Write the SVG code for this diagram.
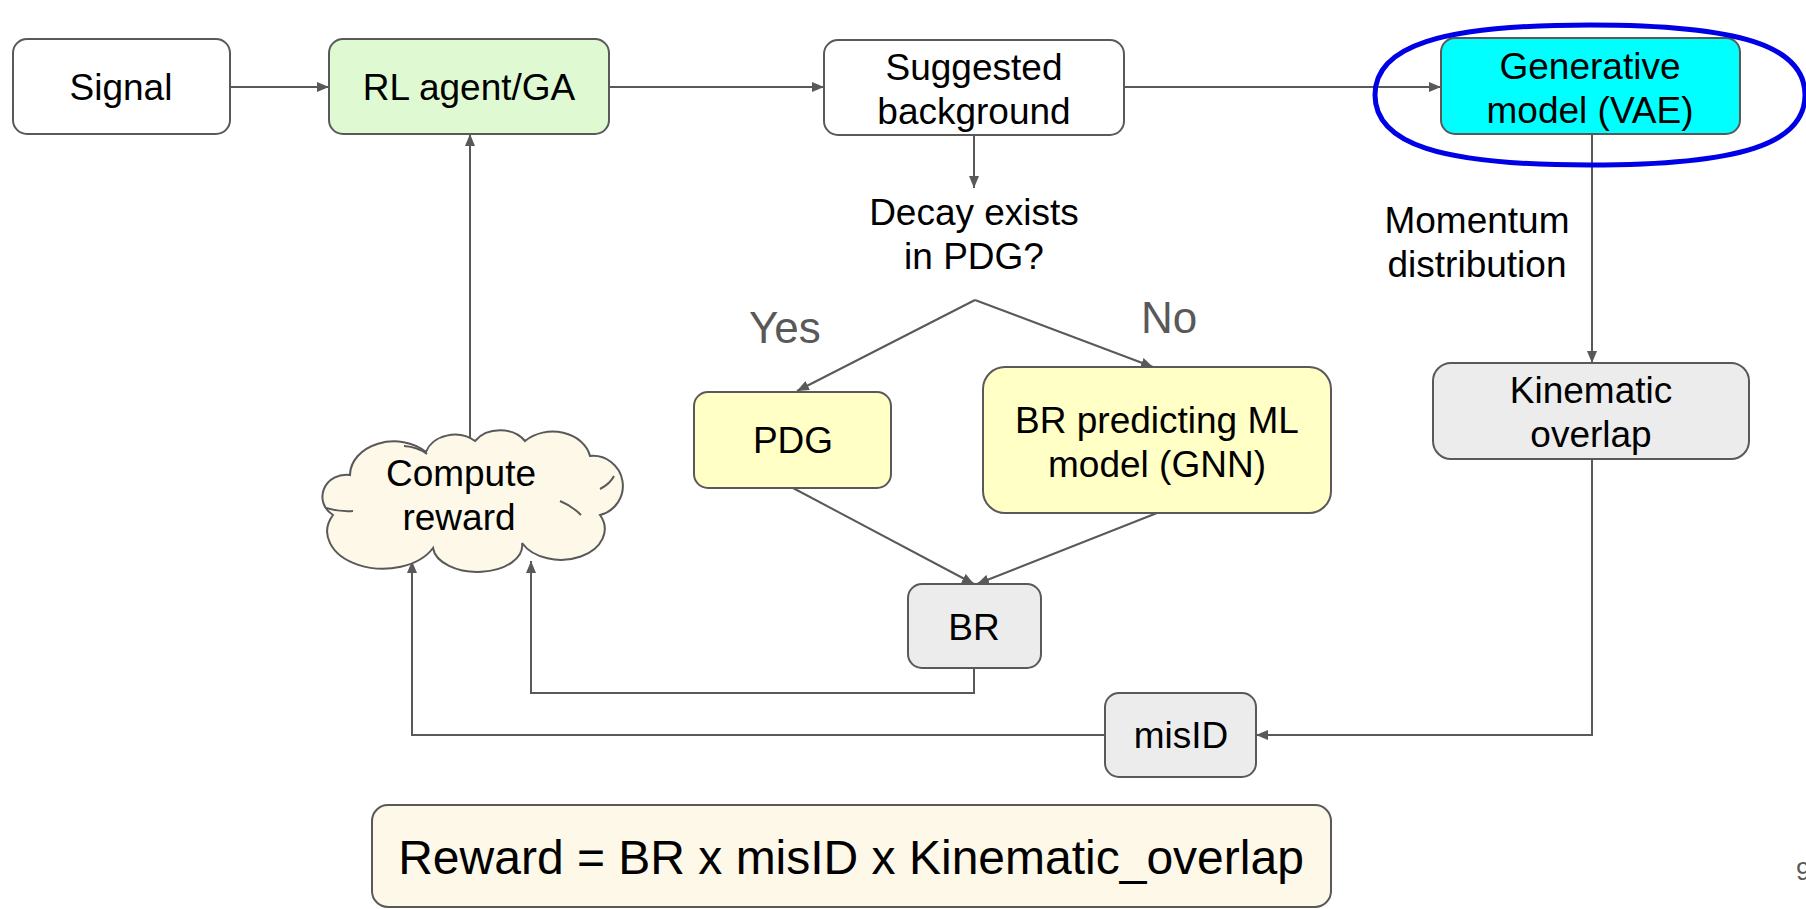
<svg xmlns="http://www.w3.org/2000/svg" width="1806" height="909" viewBox="0 0 1806 909">
<style>
text{font-family:"Liberation Sans",Arial,sans-serif;fill:#000;text-anchor:middle}
.t{font-size:37px}
.lbl{font-size:44px;fill:#595959;text-anchor:start}
.box{stroke:#595959;stroke-width:2}
.w{fill:#fff}
.g{fill:#dffad3}
.c{fill:#00ffff}
.y{fill:#ffffc6}
.gr{fill:#ececec}
.cr{fill:#fdf8e8}
.ln{fill:none;stroke:#595959;stroke-width:2}
</style>
<defs>
<marker id="ah" markerUnits="userSpaceOnUse" markerWidth="12" markerHeight="10" refX="12" refY="5" orient="auto">
<path d="M0,0 L12,5 L0,10 z" fill="#595959"/>
</marker>
</defs>
<rect width="1806" height="909" fill="#fff"/>

<g id="connectors">
<path class="ln" d="M230,87 H329" marker-end="url(#ah)"/>
<path class="ln" d="M609,87 H824" marker-end="url(#ah)"/>
<path class="ln" d="M1124,87 H1441" marker-end="url(#ah)"/>
<path class="ln" d="M974,135 V188" marker-end="url(#ah)"/>
<path class="ln" d="M1592,134 V363" marker-end="url(#ah)"/>
<path class="ln" d="M975,300 L797,391" marker-end="url(#ah)"/>
<path class="ln" d="M975,300 L1153,367" marker-end="url(#ah)"/>
<path class="ln" d="M793,488 L974,584" marker-end="url(#ah)"/>
<path class="ln" d="M1157,513 L977,584" marker-end="url(#ah)"/>
<path class="ln" d="M1592,459 V735 H1256" marker-end="url(#ah)"/>
<path class="ln" d="M1105,735 H412 V561" marker-end="url(#ah)"/>
<path class="ln" d="M974,668 V693 H531 V561" marker-end="url(#ah)"/>
<path class="ln" d="M470,440 V134" marker-end="url(#ah)"/>
</g>

<g id="signal">
<rect class="box w" x="13" y="39" width="217" height="95" rx="14"/>
<text class="t" x="121" y="100">Signal</text>
</g>
<g id="rl-agent">
<rect class="box g" x="329" y="39" width="280" height="95" rx="14"/>
<text class="t" x="469" y="100">RL agent/GA</text>
</g>
<g id="suggested-background">
<rect class="box w" x="824" y="40" width="300" height="95" rx="14"/>
<text class="t" x="974" y="80">Suggested</text>
<text class="t" x="974" y="124">background</text>
</g>
<g id="generative-model">
<rect class="box c" x="1441" y="38" width="299" height="96" rx="14"/>
<text class="t" x="1590" y="79">Generative</text>
<text class="t" x="1590" y="123">model (VAE)</text>
<path d="M1375,95 C1375,46 1440,25 1590,25 C1740,25 1805,46 1805,95 C1805,144 1740,165 1590,165 C1440,165 1375,144 1375,95 Z" fill="none" stroke="#0000e6" stroke-width="5"/>
</g>
<g id="momentum-label">
<text class="t" x="1477" y="233">Momentum</text>
<text class="t" x="1477" y="277">distribution</text>
</g>
<g id="decision">
<text class="t" x="974" y="225">Decay exists</text>
<text class="t" x="974" y="269">in PDG?</text>
<text class="lbl" x="749" y="343">Yes</text>
<text class="lbl" x="1141" y="333">No</text>
</g>
<g id="pdg">
<rect class="box y" x="694" y="392" width="197" height="96" rx="14"/>
<text class="t" x="793" y="453">PDG</text>
</g>
<g id="gnn">
<rect class="box y" x="983" y="367" width="348" height="146" rx="22"/>
<text class="t" x="1157" y="433">BR predicting ML</text>
<text class="t" x="1157" y="477">model (GNN)</text>
</g>
<g id="br">
<rect class="box gr" x="908" y="584" width="133" height="84" rx="14"/>
<text class="t" x="974" y="640">BR</text>
</g>
<g id="kinematic-overlap">
<rect class="box gr" x="1433" y="363" width="316" height="96" rx="18"/>
<text class="t" x="1591" y="403">Kinematic</text>
<text class="t" x="1591" y="447">overlap</text>
</g>
<g id="misid">
<rect class="box gr" x="1105" y="693" width="151" height="84" rx="14"/>
<text class="t" x="1181" y="748">misID</text>
</g>
<g id="compute-reward">
<path class="box cr" d="M333,515 A24,22 0 0 1 350,475 A44,34 0 0 1 426,452 A30,24 0 0 1 475,441 A30,24 0 0 1 525,441 A38,30 0 0 1 590,456 A30,30 0 0 1 600,515 A34,24 0 0 1 522,543 A44,26 0 0 1 433,548 A42,28 0 0 1 333,515 Z"/>
<path class="ln" d="M326,508 Q340,512 353,511 M404,446 Q418,447 427,454 M600,489 Q610,484 614,476 M560,501 Q572,506 581,515"/>
<text class="t" x="461" y="486">Compute</text>
<text class="t" x="459" y="530">reward</text>
</g>
<g id="reward-formula">
<rect class="box cr" x="372" y="805" width="959" height="102" rx="16"/>
<text x="851" y="874" font-size="48">Reward = BR x misID x Kinematic_overlap</text>
</g>
<text x="1796" y="880" font-size="26" style="fill:#595959;text-anchor:start">9</text>
</svg>
